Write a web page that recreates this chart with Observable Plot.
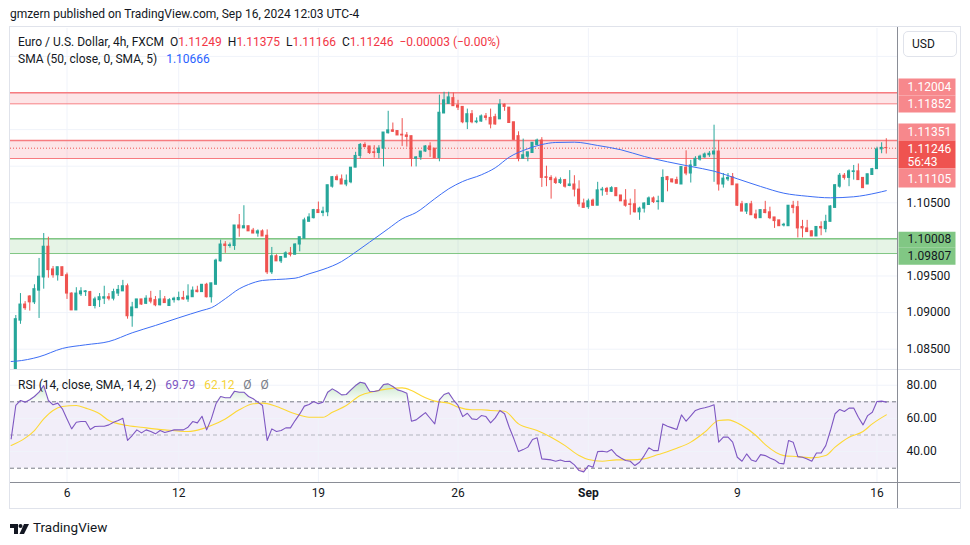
<!DOCTYPE html>
<html>
<head>
<meta charset="utf-8">
<script src="https://cdn.jsdelivr.net/npm/d3@7"></script>
<script src="https://cdn.jsdelivr.net/npm/@observablehq/plot@0.6"></script>
<style>
  body { margin: 0; background: #ffffff; font-family: Roboto, "Liberation Sans", sans-serif; color: #131722; }
  #wrap { position: relative; width: 970px; height: 545px; overflow: hidden; background: #fff; }
  .abs { position: absolute; white-space: nowrap; }
  .red { color: #f23645; }
  .blue { color: #2962ff; }
  .purple { color: #7e57c2; }
  .yellow { color: #f5d33a; }
  .gray { color: #787b86; }
  .hl { position: absolute; height: 1px; }
  .vl { position: absolute; width: 1px; }
</style>
</head>
<body>
<div id="wrap">
  <div class="abs" style="left:10px;top:6px;font-size:12px;line-height:16px;">gmzern published on TradingView.com, Sep 16, 2024 12:03 UTC-4</div>
  <div id="main" class="abs" style="left:10px;top:28px;"></div>
  <div id="rsi" class="abs" style="left:10px;top:370px;"></div>

  <!-- frame / separators -->
  <div class="hl" style="left:9px;top:26px;width:952px;background:#e0e3eb;"></div>
  <div class="hl" style="left:9px;top:508px;width:952px;background:#e0e3eb;"></div>
  <div class="vl" style="left:9px;top:26px;height:483px;background:#e0e3eb;"></div>
  <div class="vl" style="left:960px;top:26px;height:483px;background:#e0e3eb;"></div>
  <div class="hl" style="left:10px;top:369px;width:950px;background:#e0e3eb;"></div>
  <div class="hl" style="left:10px;top:482px;width:950px;background:#8a8d96;"></div>
  <div class="vl" style="left:897px;top:27px;height:481px;background:#8a8d96;"></div>

  <div class="abs" style="left:903px;top:31px;width:54px;height:26px;box-sizing:border-box;border:1px solid #e0e3eb;border-radius:5px;font-size:12px;line-height:24px;padding-left:8px;">USD</div>

  <div class="abs" style="left:18px;top:34px;font-size:12px;line-height:16px;">Euro / U.S. Dollar, 4h, FXCM&nbsp;&nbsp;O<span class="red">1.11249</span>&nbsp;&nbsp;H<span class="red">1.11375</span>&nbsp;&nbsp;L<span class="red">1.11166</span>&nbsp;&nbsp;C<span class="red">1.11246</span>&nbsp;&nbsp;<span class="red">−0.00003 (−0.00%)</span></div>
  <div class="abs" style="left:18px;top:51px;font-size:12px;line-height:16px;">SMA (50, close, 0, SMA, 5)&nbsp;&nbsp;&nbsp;<span class="blue">1.10666</span></div>
  <div class="abs" style="left:18px;top:377px;font-size:12px;line-height:16px;">RSI (14, close, SMA, 14, 2)&nbsp;&nbsp;&nbsp;<span class="purple">69.79</span>&nbsp;&nbsp;&nbsp;<span class="yellow">62.12</span>&nbsp;&nbsp;&nbsp;<span class="gray">Ø</span>&nbsp;&nbsp;&nbsp;<span class="gray">Ø</span></div>

  <div class="abs" style="left:10px;top:520px;">
    <svg width="20" height="12" viewBox="0 0 20 12">
      <path d="M0 1h8v10H4V5H0z" fill="#131722"/>
      <circle cx="10.5" cy="3" r="2" fill="#131722"/>
      <path d="M14 1h5l-5 10H9.5z" fill="#131722"/>
    </svg>
  </div>
  <div class="abs" style="left:33px;top:518px;font-size:13.5px;line-height:18px;color:#131722;">TradingView</div>
</div>

<script>
// ---------------- DATA ----------------
// 4h candles, index 0 = Aug 2 05:00 ... index 187 = Sep 16 09:00
const opens = [
  1.0790,1.0889,1.0911,1.0922,1.0914,1.0930,1.0948,1.0990,1.0959,1.0951,
  1.0962,1.0951,1.0926,1.0903,1.0925,1.0928,1.0928,1.0909,1.0917,1.0919,
  1.0921,1.0919,1.0926,1.0929,1.0936,1.0895,1.0906,1.0918,1.0912,1.0919,
  1.0917,1.0910,1.0918,1.0909,1.0917,1.0917,1.0920,1.0918,1.0921,1.0930,
  1.0928,1.0938,1.0921,1.0938,1.0970,1.0993,1.0991,1.0991,1.1019,1.1015,
  1.1018,1.1012,1.1008,1.1011,1.1005,1.0955,1.0977,1.0970,1.0975,1.0981,
  1.0979,1.0993,1.1001,1.1024,1.1029,1.1040,1.1036,1.1037,1.1072,1.1085,
  1.1082,1.1075,1.1078,1.1098,1.1114,1.1129,1.1127,1.1119,1.1118,1.1124,
  1.1145,1.1149,1.1148,1.1143,1.1142,1.1141,1.1110,1.1112,1.1120,1.1127,
  1.1124,1.1111,1.1172,1.1185,1.1193,1.1183,1.1181,1.1160,1.1171,1.1160,
  1.1161,1.1168,1.1166,1.1167,1.1164,1.1184,1.1180,1.1160,1.1141,1.1110,
  1.1113,1.1118,1.1129,1.1135,1.1085,1.1084,1.1082,1.1077,1.1081,1.1073,
  1.1075,1.1068,1.1049,1.1044,1.1053,1.1046,1.1067,1.1069,1.1065,1.1070,
  1.1060,1.1053,1.1048,1.1048,1.1037,1.1042,1.1047,1.1056,1.1051,1.1051,
  1.1085,1.1082,1.1081,1.1075,1.1098,1.1090,1.1100,1.1109,1.1112,1.1115,
  1.1116,1.1120,1.1075,1.1082,1.1085,1.1075,1.1048,1.1038,1.1048,1.1034,
  1.1029,1.1040,1.1037,1.1030,1.1026,1.1019,1.1018,1.1046,1.1044,1.1017,
  1.1015,1.1011,1.1004,1.1017,1.1014,1.1024,1.1043,1.1072,1.1087,1.1084,
  1.1092,1.1093,1.1084,1.1075,1.1088,1.1096,1.1123,1.11249
];
const highs = [
  1.0896,1.0926,1.0915,1.0923,1.0938,1.0974,1.1008,1.1003,1.0963,1.0962,
  1.0962,1.0954,1.0927,1.0934,1.0934,1.0930,1.0929,1.0921,1.0926,1.0936,
  1.0926,1.0932,1.0937,1.0944,1.0939,1.0914,1.0918,1.0918,1.0923,1.0929,
  1.0922,1.0930,1.0922,1.0919,1.0921,1.0928,1.0929,1.0938,1.0935,1.0936,
  1.0938,1.0940,1.0940,1.0973,1.0999,1.0997,1.0995,1.1019,1.1034,1.1046,
  1.1018,1.1015,1.1013,1.1013,1.1013,1.0989,1.0979,1.0976,1.0983,1.0989,
  1.0994,1.1003,1.1029,1.1035,1.1041,1.1051,1.1044,1.1074,1.1086,1.1088,
  1.1088,1.1088,1.1098,1.1119,1.1131,1.1132,1.1127,1.1128,1.1128,1.1146,
  1.1175,1.1159,1.1148,1.1165,1.1146,1.1141,1.1113,1.1120,1.1128,1.1132,
  1.1124,1.1197,1.1201,1.1201,1.1200,1.1190,1.1181,1.1178,1.1176,1.1166,
  1.1170,1.1172,1.1178,1.1171,1.1191,1.1185,1.1180,1.1160,1.1147,1.1137,
  1.1119,1.1132,1.1137,1.1139,1.1100,1.1087,1.1085,1.1084,1.1082,1.1094,
  1.1087,1.1080,1.1055,1.1055,1.1055,1.1078,1.1071,1.1071,1.1072,1.1070,
  1.1060,1.1068,1.1055,1.1068,1.1044,1.1050,1.1058,1.1058,1.1059,1.1095,
  1.1086,1.1082,1.1085,1.1099,1.1121,1.1108,1.1113,1.1115,1.1118,1.1120,
  1.1156,1.1135,1.1090,1.1090,1.1090,1.1075,1.1052,1.1049,1.1052,1.1040,
  1.1040,1.1052,1.1044,1.1030,1.1026,1.1022,1.1046,1.1052,1.1052,1.1026,
  1.1026,1.1012,1.1017,1.1024,1.1033,1.1046,1.1075,1.1090,1.1090,1.1095,
  1.1101,1.1103,1.1084,1.1089,1.1097,1.1126,1.1132,1.11375
];
const lows = [
  1.0780,1.0884,1.0903,1.0902,1.0911,1.0892,1.0932,1.0947,1.0947,1.0943,
  1.0950,1.0918,1.0903,1.0903,1.0922,1.0922,1.0909,1.0905,1.0907,1.0911,
  1.0916,1.0916,1.0922,1.0929,1.0891,1.0880,1.0906,1.0910,1.0911,1.0912,
  1.0908,1.0909,1.0913,1.0909,1.0913,1.0916,1.0917,1.0914,1.0921,1.0927,
  1.0928,1.0920,1.0913,1.0938,1.0969,1.0981,1.0988,1.0985,1.1003,1.1015,
  1.1011,1.1008,1.1003,1.1004,1.0952,1.0952,1.0970,1.0967,1.0975,1.0976,
  1.0979,1.0983,1.1001,1.1024,1.1028,1.1036,1.1031,1.1031,1.1070,1.1080,
  1.1075,1.1072,1.1076,1.1098,1.1110,1.1126,1.1116,1.1111,1.1110,1.1099,
  1.1144,1.1146,1.1142,1.1127,1.1126,1.1099,1.1099,1.1108,1.1119,1.1112,
  1.1111,1.1106,1.1172,1.1185,1.1182,1.1176,1.1158,1.1150,1.1158,1.1158,
  1.1160,1.1162,1.1151,1.1156,1.1164,1.1175,1.1159,1.1135,1.1106,1.1110,
  1.1106,1.1118,1.1129,1.1071,1.1072,1.1055,1.1075,1.1075,1.1070,1.1072,
  1.1058,1.1044,1.1043,1.1041,1.1045,1.1046,1.1059,1.1060,1.1064,1.1059,
  1.1052,1.1044,1.1033,1.1036,1.1026,1.1036,1.1047,1.1049,1.1040,1.1050,
  1.1065,1.1077,1.1076,1.1075,1.1087,1.1077,1.1100,1.1107,1.1111,1.1112,
  1.1078,1.1066,1.1070,1.1079,1.1074,1.1045,1.1038,1.1034,1.1033,1.1027,
  1.1029,1.1035,1.1027,1.1015,1.1018,1.1017,1.1018,1.1035,1.1002,1.1002,
  1.1010,1.1004,1.1004,1.1005,1.1009,1.1024,1.1043,1.1070,1.1081,1.1072,
  1.1081,1.1081,1.1070,1.1075,1.1088,1.1096,1.1117,1.11166
];
const closes = [
  1.0891,1.0911,1.0906,1.0914,1.0932,1.0949,1.0990,1.0958,1.0951,1.0962,
  1.0950,1.0926,1.0903,1.0926,1.0929,1.0929,1.0909,1.0918,1.0921,1.0921,
  1.0919,1.0928,1.0931,1.0936,1.0895,1.0907,1.0918,1.0911,1.0919,1.0915,
  1.0910,1.0918,1.0913,1.0917,1.0919,1.0920,1.0918,1.0922,1.0930,1.0928,
  1.0938,1.0921,1.0940,1.0971,1.0993,1.0991,1.0992,1.1019,1.1015,1.1018,
  1.1011,1.1008,1.1011,1.1004,1.0955,1.0977,1.0970,1.0976,1.0981,1.0979,
  1.0993,1.1003,1.1026,1.1030,1.1040,1.1036,1.1038,1.1074,1.1085,1.1081,
  1.1075,1.1080,1.1098,1.1114,1.1129,1.1126,1.1118,1.1118,1.1124,1.1146,
  1.1149,1.1147,1.1142,1.1142,1.1140,1.1110,1.1112,1.1120,1.1127,1.1122,
  1.1111,1.1173,1.1190,1.1194,1.1182,1.1180,1.1160,1.1171,1.1160,1.1161,
  1.1168,1.1166,1.1157,1.1157,1.1184,1.1181,1.1159,1.1136,1.1110,1.1115,
  1.1119,1.1132,1.1135,1.1084,1.1084,1.1081,1.1077,1.1081,1.1072,1.1075,
  1.1068,1.1048,1.1043,1.1052,1.1046,1.1067,1.1068,1.1065,1.1070,1.1059,
  1.1052,1.1046,1.1047,1.1037,1.1042,1.1049,1.1056,1.1051,1.1052,1.1084,
  1.1081,1.1078,1.1076,1.1099,1.1090,1.1101,1.1110,1.1113,1.1116,1.1117,
  1.1120,1.1075,1.1083,1.1084,1.1074,1.1046,1.1038,1.1048,1.1033,1.1029,
  1.1040,1.1036,1.1029,1.1025,1.1018,1.1020,1.1046,1.1043,1.1015,1.1015,
  1.1010,1.1004,1.1017,1.1015,1.1024,1.1045,1.1074,1.1087,1.1084,1.1093,
  1.1093,1.1081,1.1070,1.1089,1.1096,1.1123,1.1125,1.11246
];

// SMA(50) sampled along bar index
const smaIdx = [-1,0,5,10,15,20,25,30,35,40,42,45,48,50,53,56,60,63,66,70,73,76,80,83,86,90,93,96,100,103,106,110,113,116,120,125,130,135,140,145,150,155,160,165,170,175,180,185,187];
const smaVal = [1.08332,1.08336,1.08396,1.08510,1.08560,1.08605,1.08724,1.08824,1.08929,1.09029,1.09066,1.09189,1.09325,1.09384,1.09439,1.09452,1.09470,1.09530,1.09589,1.09698,1.09826,1.09962,1.10145,1.10281,1.10367,1.10555,1.10691,1.10791,1.10882,1.10978,1.11123,1.11238,1.11296,1.11324,1.11328,1.11283,1.11224,1.11133,1.11060,1.10996,1.10932,1.10828,1.10723,1.10631,1.10590,1.10568,1.10582,1.10636,1.10666];

// RSI(14) per bar, starting at index -1
const rsiStart = -1;
const rsiVal = [47.7,
  67.8,70.8,69.8,71.2,73.2,75.8,79.8,70.8,68.2,69.2,
  65.8,59.7,53.7,57.7,58.1,58.1,53.3,55.1,55.3,55.3,
  56.1,57.7,58.7,60.1,46.7,49.7,53.1,51.3,53.1,52.1,
  50.7,52.7,51.5,52.3,53.1,53.1,53.1,54.7,58.1,57.3,
  61.3,53.1,59.7,68.8,73.2,72.4,72.4,76.4,75.8,75.8,
  73.2,71.8,69.8,67.8,46.7,53.7,52.1,52.7,54.3,54.3,
  58.7,62.7,67.4,68.4,70.2,68.8,69.8,75.8,77.8,76.2,
  74.2,74.4,77.2,79.8,81.8,81.1,76.4,76.2,76.8,80.4,
  80.8,79.2,77.2,76.4,75.2,58.3,59.1,61.3,63.5,60.1,
  56.7,71.2,74.4,75.4,71.2,67.8,61.1,63.1,59.7,59.3,
  61.7,61.1,57.3,60.3,64.8,62.8,54.7,47.7,40.0,41.2,
  42.7,47.3,48.3,35.6,35.3,35.0,34.2,35.0,34.0,34.2,
  32.0,28.6,27.8,31.6,30.6,40.0,40.2,39.8,41.2,38.0,
  36.2,34.6,34.2,31.6,33.6,37.6,42.3,40.6,40.6,56.7,
  55.3,54.3,53.3,62.1,58.3,61.5,64.8,65.8,66.4,67.2,
  68.2,45.7,48.7,48.7,45.7,36.6,34.2,38.6,35.0,34.0,
  38.2,37.6,36.2,35.0,33.0,32.6,46.7,45.7,37.0,36.6,
  35.6,34.2,39.2,39.2,43.6,52.7,62.8,65.4,64.2,66.2,
  66.2,60.7,56.1,61.7,63.7,70.2,70.4,69.79];

// RSI-based MA (14) sampled along bar index
const rsiMaIdx = [-1,2,4,6,8,10,13,15,18,20,24,28,32,37,40,42,45,48,51,53,56,60,63,66,68,71,74,77,80,83,85,87,90,93,95,98,100,102,105,108,112,115,118,121,123,126,129,132,135,138,142,145,148,151,153,156,159,161,165,168,171,174,176,179,182,184,187];
const rsiMaVal = [43.7,48.1,52.7,59.7,64.8,67.2,67.8,66.2,62.8,58.7,55.7,54.3,53.1,52.1,53.7,55.7,59.7,65.2,68.8,69.2,67.2,62.8,60.7,60.7,63.7,67.8,73.8,76.2,77.8,78.4,76.8,73.8,70.4,69.2,66.8,65.2,65.2,64.8,64.3,56.7,52.7,48.7,43.6,37.6,35.2,34.2,35.0,35.0,35.6,38.2,42.0,45.7,51.7,58.7,59.1,55.7,49.7,44.2,37.6,37.0,36.2,37.6,42.7,48.7,52.1,56.7,62.12];

// Time axis ticks (bar index) and labels
const tickIdx = [11, 35, 65, 95, 123, 155, 185];
const tickText = ["6", "12", "19", "26", "Sep", "9", "16"];

// Price grid & labels
const priceGrid = [1.085, 1.090, 1.095, 1.100, 1.105, 1.110, 1.115, 1.120, 1.125];
const priceTicks = [1.105, 1.095, 1.090, 1.085];
const rsiGrid = [80, 60, 40];

// Zones and levels
const resistanceZone1 = [1.11852, 1.12004];
const resistanceZone2 = [1.11105, 1.11351];
const supportZone = [1.09807, 1.10008];
const lastPrice = 1.11246;
const countdown = "56:43";
const levelPrices = [1.12004, 1.11852, 1.11351, 1.11246, 1.11105, 1.10008, 1.09807];
const levelKinds  = ["res", "res", "res", "last", "res", "sup", "sup"];

// ---------------- BUILD ----------------
const UP = "#26a69a", DOWN = "#ef5350";
const candles = opens.map((o, i) => ({i, o, h: highs[i], l: lows[i], c: closes[i]}));
const sma = smaIdx.map((x, k) => ({x, v: smaVal[k]}));
const rsi = rsiVal.map((v, k) => ({x: k + rsiStart, v}));
const rsiMa = rsiMaIdx.map((x, k) => ({x, v: rsiMaVal[k]}));
const zones = [
  {lo: resistanceZone1[0], hi: resistanceZone1[1], kind: "res"},
  {lo: resistanceZone2[0], hi: resistanceZone2[1], kind: "res"},
  {lo: supportZone[0], hi: supportZone[1], kind: "sup"}
];

const X_DOMAIN = [-1.139, 189.41];
const FONT = "Roboto, 'Liberation Sans', sans-serif";

// box symbol for price-axis labels
const boxSym = (w, h) => ({ draw(ctx) { ctx.moveTo(-w/2, -h/2); ctx.lineTo(w/2, -h/2); ctx.lineTo(w/2, h/2); ctx.lineTo(-w/2, h/2); ctx.closePath(); } });
// label layout (pixel offsets from price position), box heights
const labelLayout = [
  {dy: -5.7, h: 17, tdy: -5.9},
  {dy: 0.2,  h: 17, tdy: 0.0},
  {dy: -8.4, h: 17, tdy: -8.2},
  {dy: 6.4,  h: 28, tdy: 0.7},
  {dy: 19.6, h: 19, tdy: 20.8},
  {dy: 0.9,  h: 16, tdy: 0.2},
  {dy: 2.7,  h: 17, tdy: 2.4}
];
const kindFill = {res: "#f7888c", last: "#ef5350", sup: "#81c784"};
const kindText = {res: "#ffffff", last: "#ffffff", sup: "#131722"};

const labelMarks = [];
levelPrices.forEach((p, k) => {
  const L = labelLayout[k], kind = levelKinds[k];
  labelMarks.push(Plot.dot([p], {y: d => d, frameAnchor: "right", dx: 29.5, dy: L.dy, r: 4, symbol: boxSym(57, L.h), fill: kindFill[kind]}));
});
levelPrices.forEach((p, k) => {
  const L = labelLayout[k], kind = levelKinds[k];
  labelMarks.push(Plot.text([p], {y: d => d, text: d => d.toFixed(5), frameAnchor: "right", textAnchor: "start", dx: 10, dy: L.tdy, fill: kindText[kind], fontSize: 12}));
});
labelMarks.push(Plot.text([lastPrice], {y: d => d, text: () => countdown, frameAnchor: "right", textAnchor: "start", dx: 10, dy: 14.2, fill: "#ffffff", fontSize: 12}));

const main = Plot.plot({
  width: 950, height: 342,
  marginLeft: 0, marginRight: 63, marginTop: 0, marginBottom: 0,
  style: {fontFamily: FONT, fontSize: "12px", background: "transparent", overflow: "hidden"},
  x: {domain: X_DOMAIN, axis: null},
  y: {domain: [1.08209, 1.12881], axis: null},
  color: {type: "identity"},
  marks: [
    Plot.ruleY(priceGrid, {y: d => d, stroke: "#f0f3fa", strokeWidth: 1}),
    Plot.ruleX(tickIdx, {x: d => d, stroke: "#f0f3fa", strokeWidth: 1}),
    Plot.rect(zones, {y1: "lo", y2: "hi", fill: d => d.kind === "res" ? "#f23645" : "#4caf50", fillOpacity: d => d.kind === "res" ? 0.13 : 0.14}),
    Plot.ruleY(zones, {y: "hi", stroke: d => d.kind === "res" ? "#f77c80" : "#81c784", strokeWidth: 1.6}),
    Plot.ruleY(zones, {y: "lo", stroke: d => d.kind === "res" ? "#f77c80" : "#81c784", strokeWidth: 1}),
    Plot.ruleY([lastPrice], {y: d => d, stroke: "#ef5350", strokeWidth: 1, strokeDasharray: "1,2"}),
    Plot.ruleX(candles, {x: "i", y1: "l", y2: "h", stroke: d => d.c >= d.o ? UP : DOWN, strokeWidth: 1}),
    Plot.rect(candles, {x1: d => d.i - 0.33, x2: d => d.i + 0.33, y1: "o", y2: "c", fill: d => d.c >= d.o ? UP : DOWN, insetTop: -0.5, insetBottom: -0.5}),
    Plot.line(sma, {x: "x", y: "v", stroke: "#3d6ef5", strokeWidth: 1, curve: "monotone-x"}),
    Plot.text(priceTicks, {y: d => d, text: d => d.toFixed(5), frameAnchor: "right", textAnchor: "start", dx: 9, fill: "#131722", fontSize: 12}),
    ...labelMarks
  ]
});
document.getElementById("main").appendChild(main);

const rsiPlot = Plot.plot({
  width: 950, height: 138,
  marginLeft: 0, marginRight: 63, marginTop: 0, marginBottom: 26,
  style: {fontFamily: FONT, fontSize: "12px", background: "transparent", overflow: "hidden"},
  x: {domain: X_DOMAIN, axis: null},
  y: {domain: [21.39, 88.86], axis: null},
  color: {type: "identity"},
  marks: [
    Plot.rect([{lo: 30, hi: 70}], {y1: "lo", y2: "hi", fill: "#7e57c2", fillOpacity: 0.1}),
    Plot.ruleY(rsiGrid, {y: d => d, stroke: "#f0f3fa", strokeWidth: 1}),
    Plot.ruleX(tickIdx, {x: d => d, y1: 21.39, y2: 88.86, stroke: "#f0f3fa", strokeWidth: 1}),
    Plot.ruleY([70, 30], {y: d => d, stroke: "#787b86", strokeWidth: 1, strokeDasharray: "4,3"}),
    Plot.ruleY([50], {y: d => d, stroke: "#b2b5be", strokeWidth: 1, strokeDasharray: "4,3"}),
    Plot.areaY(rsi, {x: "x", y1: 70, y2: d => Math.max(70, d.v), fill: "url(#obGrad)"}),
    Plot.areaY(rsi, {x: "x", y1: 30, y2: d => Math.min(30, d.v), fill: "url(#osGrad)"}),
    Plot.line(rsiMa, {x: "x", y: "v", stroke: "#fdd835", strokeWidth: 1.1, curve: "monotone-x"}),
    Plot.line(rsi, {x: "x", y: "v", stroke: "#7e57c2", strokeWidth: 1.1}),
    Plot.text(rsiGrid, {y: d => d, text: d => d.toFixed(2), frameAnchor: "right", textAnchor: "start", dx: 9, fill: "#131722", fontSize: 12}),
    Plot.text(tickIdx.filter((d, k) => tickText[k] !== "Sep"), {x: d => d, text: d => tickText[tickIdx.indexOf(d)], frameAnchor: "bottom", dy: 14, fill: "#131722", fontSize: 12}),
    Plot.text(tickIdx.filter((d, k) => tickText[k] === "Sep"), {x: d => d, text: d => tickText[tickIdx.indexOf(d)], frameAnchor: "bottom", dy: 14, fill: "#131722", fontSize: 12, fontWeight: "bold"})
  ]
});
const defs = d3.select(rsiPlot).insert("defs", ":first-child");
const g1 = defs.append("linearGradient").attr("id", "obGrad").attr("x1", 0).attr("y1", 0).attr("x2", 0).attr("y2", 1);
g1.append("stop").attr("offset", 0).attr("stop-color", "#4caf50").attr("stop-opacity", 0.32);
g1.append("stop").attr("offset", 1).attr("stop-color", "#4caf50").attr("stop-opacity", 0.03);
const g2 = defs.append("linearGradient").attr("id", "osGrad").attr("x1", 0).attr("y1", 1).attr("x2", 0).attr("y2", 0);
g2.append("stop").attr("offset", 0).attr("stop-color", "#f23645").attr("stop-opacity", 0.3);
g2.append("stop").attr("offset", 1).attr("stop-color", "#f23645").attr("stop-opacity", 0.03);
document.getElementById("rsi").appendChild(rsiPlot);
</script>
</body>
</html>
